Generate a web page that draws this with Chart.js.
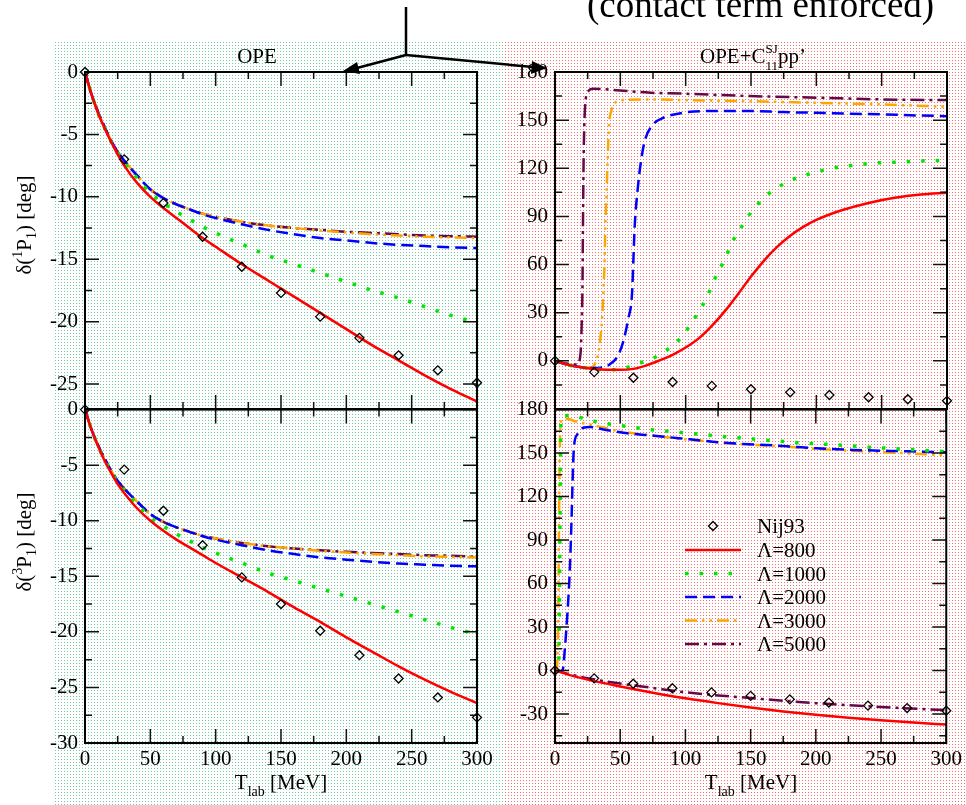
<!DOCTYPE html>
<html>
<head>
<meta charset="utf-8">
<title>1P1 / 3P1 phase shifts</title>
<script src="https://cdn.jsdelivr.net/npm/chart.js@4.4.1/dist/chart.umd.min.js"></script>
<style>
  body { margin: 0; background: #fff; }
  #page { position: relative; width: 966px; height: 805px; overflow: hidden; }
  .bg { position: absolute; top: 40px; height: 765px; background-size: 3px 3px;
        background-image: linear-gradient(90deg, #fff 2px, transparent 2px), linear-gradient(#fff 2px, transparent 2px); }
  #bgL { left: 53px; width: 450px; background-color: #78c8a8; }
  #bgR { left: 503px; width: 463px; background-color: #f07272; }
  .box { position: absolute; }
  #arrows { position: absolute; left: 0; top: 0; }
</style>
</head>
<body>
<div id="page">
  <div class="bg" id="bgL"></div>
  <div class="bg" id="bgR"></div>
  <div class="box" style="left:0;top:0;width:490px;height:430px"><canvas id="tl"></canvas></div>
  <div class="box" style="left:490px;top:0;width:476px;height:430px"><canvas id="tr"></canvas></div>
  <div class="box" style="left:0;top:390px;width:503px;height:415px"><canvas id="bl"></canvas></div>
  <div class="box" style="left:490px;top:390px;width:476px;height:415px"><canvas id="br"></canvas></div>
  <svg id="arrows" width="966" height="805">
    <polyline points="406,7 406,55 357,68" fill="none" stroke="#000" stroke-width="2.5"/>
    <polygon points="343,71 357,62 360,74" fill="#000"/>
    <polyline points="406,55 533,67" fill="none" stroke="#000" stroke-width="2.5"/>
    <polygon points="547,68 532,61 531,74" fill="#000"/>
  </svg>
</div>
<script>
// ---- data ----
const xTicks = [0, 50, 100, 150, 200, 250, 300];
const yTicksTL = [0, -5, -10, -15, -20, -25];
const yTicksBL = [0, -5, -10, -15, -20, -25, -30];
const yTicksTR = [0, 30, 60, 90, 120, 150, 180];
const yTicksBR = [-30, 0, 30, 60, 90, 120, 150, 180];

const tNij = [0, 30, 60, 90, 120, 150, 180, 210, 240, 270, 300];
const nij1P1 = [0, -7.0, -10.5, -13.2, -15.6, -17.7, -19.6, -21.3, -22.7, -23.9, -24.9];
const nij3P1 = [0, -5.4, -9.1, -12.2, -15.1, -17.5, -19.9, -22.1, -24.2, -25.9, -27.7];

// OPE, 1P1
const tLeft = [0, 5, 10, 15, 20, 25, 30, 40, 50, 60, 70, 80, 90, 100, 120, 140, 160, 180, 200, 220, 240, 260, 280, 300];
const ope1P1_800  = [0, -1.8, -3.3, -4.5, -5.6, -6.6, -7.5, -8.9, -10.0, -10.9, -11.7, -12.5, -13.3, -14.0, -15.4, -16.7, -18.0, -19.3, -20.6, -21.9, -23.1, -24.3, -25.4, -26.4];
const ope1P1_1000 = [0, -1.8, -3.3, -4.5, -5.6, -6.5, -7.3, -8.5, -9.7, -10.5, -11.2, -11.8, -12.4, -12.9, -13.8, -14.7, -15.4, -16.1, -16.8, -17.5, -18.1, -18.8, -19.5, -20.1];
const ope1P1_2000 = [0, -1.8, -3.2, -4.4, -5.5, -6.4, -7.1, -8.3, -9.4, -10.1, -10.6, -11.0, -11.4, -11.7, -12.2, -12.65, -13.0, -13.3, -13.5, -13.7, -13.85, -13.95, -14.05, -14.1];
const ope1P1_3000 = [0, -1.8, -3.2, -4.4, -5.5, -6.4, -7.1, -8.3, -9.4, -10.1, -10.6, -11.0, -11.35, -11.6, -12.0, -12.3, -12.5, -12.7, -12.85, -13.0, -13.1, -13.2, -13.25, -13.3];
const ope1P1_5000 = [0, -1.8, -3.2, -4.4, -5.5, -6.4, -7.1, -8.3, -9.4, -10.1, -10.6, -11.0, -11.35, -11.6, -12.0, -12.3, -12.5, -12.65, -12.8, -12.9, -13.0, -13.1, -13.15, -13.2];

// OPE, 3P1
const ope3P1_800  = [0, -1.8, -3.3, -4.6, -5.7, -6.7, -7.5, -8.9, -10.0, -10.9, -11.7, -12.4, -13.1, -13.8, -15.1, -16.4, -17.8, -19.1, -20.5, -21.8, -23.1, -24.3, -25.4, -26.4];
const ope3P1_1000 = [0, -1.8, -3.3, -4.5, -5.6, -6.5, -7.3, -8.5, -9.7, -10.5, -11.2, -11.8, -12.4, -12.9, -13.8, -14.7, -15.4, -16.1, -16.8, -17.5, -18.2, -18.9, -19.6, -20.2];
const ope3P1_2000 = [0, -1.8, -3.2, -4.4, -5.5, -6.4, -7.1, -8.3, -9.4, -10.1, -10.6, -11.0, -11.4, -11.7, -12.2, -12.65, -13.0, -13.3, -13.5, -13.7, -13.85, -13.95, -14.05, -14.1];
const ope3P1_3000 = [0, -1.8, -3.2, -4.4, -5.5, -6.4, -7.1, -8.3, -9.4, -10.1, -10.6, -11.0, -11.35, -11.6, -12.0, -12.3, -12.5, -12.7, -12.85, -13.0, -13.1, -13.2, -13.25, -13.3];
const ope3P1_5000 = [0, -1.8, -3.2, -4.4, -5.5, -6.4, -7.1, -8.3, -9.4, -10.1, -10.6, -11.0, -11.35, -11.6, -12.0, -12.3, -12.5, -12.65, -12.8, -12.9, -13.0, -13.1, -13.15, -13.25];

// OPE + C11 pp', 1P1
const ct1P1_800_t  = [0, 10, 20, 30, 40, 50, 60, 70, 80, 90, 100, 110, 120, 130, 140, 150, 160, 170, 180, 190, 200, 210, 220, 240, 260, 280, 300];
const ct1P1_800    = [0, -2.5, -4.0, -5.0, -5.5, -5.6, -5.0, -2.8, 0.3, 3.8, 8.3, 14, 21.8, 31, 41.5, 52.5, 62.5, 71, 78, 83.5, 87.8, 91.2, 94, 98.4, 101.6, 103.6, 104.8];
const ct1P1_1000_t = [0, 10, 20, 30, 40, 45, 55, 65, 75, 84, 93, 100, 106, 112, 117, 121, 126, 131, 135, 141, 146, 153, 160, 169, 178, 188, 199, 209, 220, 230, 241, 252, 263, 274, 285, 300];
const ct1P1_1000   = [0, -2.5, -4, -5, -5.5, -5.6, -4.1, -1.4, 1.5, 5.9, 11.5, 18.2, 25.6, 33.3, 41, 48.9, 57.2, 65.1, 73.2, 80.9, 88.1, 95.4, 101.8, 107.2, 111.6, 114.9, 117.4, 119.5, 121.1, 122, 123, 123.6, 123.8, 124.3, 124.7, 125];
const ct1P1_2000_t = [0, 10, 20, 30, 35, 42, 48, 52, 56, 59, 60, 61, 63, 66, 69, 75, 83, 98, 124, 149, 175, 200, 226, 251, 277, 300];
const ct1P1_2000   = [0, -2.5, -4, -4.5, -4.2, -2.1, 3, 11.4, 25.9, 42.5, 63.2, 84, 104.7, 125.5, 138, 147.3, 151.5, 154.6, 155.7, 155.7, 155, 154.6, 154, 153.6, 152.9, 152.5];
const ct1P1_3000_t = [0, 10, 20, 27, 32, 34, 36, 37, 38, 38.5, 39.5, 40.3, 41.3, 43, 46, 52, 73, 98, 149, 200, 251, 300];
const ct1P1_3000   = [0, -2.5, -3.8, -4.2, 1, 9.3, 25.9, 42.5, 63.2, 84, 104.7, 125.5, 146.3, 155.6, 160.8, 162.5, 162.9, 162.5, 161.8, 160.8, 159.8, 158.3];
const ct1P1_5000_t = [0, 10, 17, 19.6, 20.4, 21, 21.4, 21.9, 22.4, 23.5, 25.5, 29, 47, 73, 98, 149, 200, 251, 300];
const ct1P1_5000   = [0, -1.8, -2.3, 5.2, 21.8, 45, 84, 125.5, 146.3, 162.9, 168.1, 169.6, 168.7, 167.1, 166.5, 165, 164, 162.9, 162.5];

// OPE + C11 pp', 3P1
const ct3P1_800_t  = [0, 10, 25, 50, 75, 100, 125, 150, 175, 200, 225, 250, 275, 300];
const ct3P1_800    = [0, -2.8, -6.3, -11, -15.3, -19.2, -22.5, -25.5, -28.2, -30.5, -32.5, -34.3, -35.9, -37.3];
const ct3P1_1000_t = [0, 2, 3, 3.5, 4, 4.6, 8, 12, 23, 33, 44, 55, 66, 76, 87, 98, 131, 152, 173, 195, 217, 238, 260, 282, 300];
const ct3P1_1000   = [0, -0.5, 10, 60, 120, 173.9, 175.8, 176.2, 173.6, 171.4, 169.8, 168.4, 167, 165.9, 165, 164.1, 161.3, 159.7, 158.1, 156.7, 155.6, 154.2, 153.1, 151.9, 151];
const ct3P1_2000_t = [0, 3, 5.9, 7.7, 9.5, 11, 12, 12.8, 13.5, 14.5, 17.1, 21.7, 26.8, 37, 52.3, 77.8, 103.3, 128.8, 174.7, 200.3, 228.3, 256.4, 289.5, 300];
const ct3P1_2000   = [0, -0.8, 0.5, 16.5, 39.3, 62.2, 85.1, 108, 130.9, 153.7, 162.9, 167.5, 168, 166.3, 164, 161.8, 159.5, 157.2, 154.9, 153.3, 152.2, 151.5, 150.8, 150.5];
const ct3P1_3000_t = [0, 1.5, 2.5, 3, 3.5, 4.2, 6, 10, 15, 25, 35, 50, 75, 100, 130, 175, 200, 230, 260, 300];
const ct3P1_3000   = [0, 2, 40, 90, 140, 170, 173.5, 173.5, 172, 170, 168, 165, 162, 159.5, 157, 154.5, 153, 151.5, 150.3, 148.5];
const ct3P1_5000_t = [0, 10, 25, 50, 75, 100, 150, 200, 250, 300];
const ct3P1_5000   = [0, -2.3, -5.3, -9, -12, -15, -19, -22.5, -25.2, -27.3];

// ---- drawing ----
const FONT = '"Liberation Serif", "Times New Roman", serif';
const FS = 21;

function pts(xs, ys) {
    return xs.map(function (x, i) { return { x: x, y: ys[i] }; });
}

const lineStyle = {
    800:  { borderColor: '#ff0000', borderWidth: 2.5, borderDash: [] },
    1000: { borderColor: '#00e600', borderWidth: 3.5, borderDash: [3.5, 11] },
    2000: { borderColor: '#0000ff', borderWidth: 2.5, borderDash: [12, 6] },
    3000: { borderColor: '#ffa500', borderWidth: 2.5, borderDash: [12, 5, 2.5, 5, 2.5, 5] },
    5000: { borderColor: '#670748', borderWidth: 2.5, borderDash: [14, 5, 3, 5] },
};

function curve(lambda, xs, ys) {
    const s = lineStyle[lambda];
    return {
        label: '\u039B=' + lambda,
        data: pts(xs, ys),
        borderColor: s.borderColor,
        borderWidth: s.borderWidth,
        borderDash: s.borderDash,
        borderCapStyle: 'butt',
        pointRadius: 0,
        fill: false,
        cubicInterpolationMode: 'monotone',
    };
}

function nijSet(ys) {
    return {
        label: 'Nij93',
        data: pts(tNij, ys),
        showLine: false,
        pointStyle: 'rectRot',
        pointRadius: 4.5,
        pointBorderWidth: 1.3,
        borderColor: '#000',
        pointBackgroundColor: 'rgba(0,0,0,0)',
        clip: false,
    };
}

function drawRuns(ctx, runs, x, y, align) {
    let total = 0;
    const widths = runs.map(function (r) {
        ctx.font = r.size + 'px ' + FONT;
        let w;
        if (r.stack) {
            w = Math.max.apply(null, r.stack.map(function (s) { return ctx.measureText(s.text).width; }));
        } else {
            w = ctx.measureText(r.text).width;
        }
        total += w;
        return w;
    });
    let cx = align === 'center' ? x - total / 2 : x;
    ctx.fillStyle = '#000';
    ctx.textAlign = 'left';
    ctx.textBaseline = 'alphabetic';
    runs.forEach(function (r, i) {
        ctx.font = r.size + 'px ' + FONT;
        if (r.stack) {
            r.stack.forEach(function (s) { ctx.fillText(s.text, cx, y + s.dy); });
        } else {
            ctx.fillText(r.text, cx, y + (r.dy || 0));
        }
        cx += widths[i];
    });
}

function drawFrame(chart, yTicks, minorY) {
    const ctx = chart.ctx;
    const a = chart.chartArea;
    const xs = chart.scales.x, ys = chart.scales.y;
    ctx.save();
    ctx.strokeStyle = '#111';
    ctx.lineWidth = 1.5;
    ctx.beginPath();
    const nx = Math.round((xs.max - xs.min) / 25);
    for (let i = 0; i <= nx; i++) {
        const v = xs.min + i * 25;
        const len = xTicks.indexOf(v) >= 0 ? 14 : 7;
        const px = xs.getPixelForValue(v);
        ctx.moveTo(px, a.bottom); ctx.lineTo(px, a.bottom - len);
        ctx.moveTo(px, a.top); ctx.lineTo(px, a.top + len);
    }
    const k0 = Math.ceil(ys.min / minorY - 1e-9), k1 = Math.floor(ys.max / minorY + 1e-9);
    for (let k = k0; k <= k1; k++) {
        const v = k * minorY;
        const len = yTicks.indexOf(v) >= 0 ? 14 : 7;
        const py = ys.getPixelForValue(v);
        ctx.moveTo(a.left, py); ctx.lineTo(a.left + len, py);
        ctx.moveTo(a.right, py); ctx.lineTo(a.right - len, py);
    }
    ctx.stroke();
    ctx.strokeStyle = '#000';
    ctx.lineWidth = 2;
    ctx.strokeRect(a.left, a.top, a.right - a.left, a.bottom - a.top);
    ctx.restore();
}

const legendBase = [143, 167, 190.5, 214, 237.5, 261];

function drawLegend(chart) {
    const ctx = chart.ctx;
    chart.data.datasets.forEach(function (ds, i) {
        const yb = legendBase[i], ym = yb - 7;
        ctx.save();
        if (ds.showLine === false) {
            ctx.strokeStyle = '#000';
            ctx.lineWidth = 1.3;
            ctx.beginPath();
            ctx.moveTo(223, ym - 4.5); ctx.lineTo(227.5, ym); ctx.lineTo(223, ym + 4.5); ctx.lineTo(218.5, ym);
            ctx.closePath();
            ctx.stroke();
        } else {
            ctx.strokeStyle = ds.borderColor;
            ctx.lineWidth = ds.borderWidth;
            ctx.setLineDash(ds.borderDash);
            ctx.lineCap = 'butt';
            ctx.beginPath();
            ctx.moveTo(195, ym); ctx.lineTo(251, ym);
            ctx.stroke();
        }
        ctx.restore();
        drawRuns(ctx, [{ text: ds.label, size: FS }], 267, yb, 'left');
    });
}

function yTitle(ctx, x, y, sup) {
    ctx.save();
    ctx.translate(x, y);
    ctx.rotate(-Math.PI / 2);
    drawRuns(ctx, [
        { text: '\u03B4(', size: FS },
        { text: sup, size: 14, dy: -9 },
        { text: 'P', size: FS },
        { text: '1', size: 14, dy: 5 },
        { text: ') [deg]', size: FS },
    ], 0, 0, 'center');
    ctx.restore();
}

function xTitle(ctx, x, y) {
    drawRuns(ctx, [
        { text: 'T', size: FS },
        { text: 'lab', size: 14, dy: 7 },
        { text: ' [MeV]', size: FS },
    ], x, y, 'center');
}

function makePanel(id, datasets, opt) {
    const ctx = document.getElementById(id);
    return new Chart(ctx, {
        type: 'line',
        data: { datasets: datasets },
        plugins: [{
            id: 'decor',
            afterDraw: function (chart) {
                drawFrame(chart, opt.yTicks, opt.minorY);
                if (opt.texts) opt.texts(chart.ctx, chart);
                if (opt.legend) drawLegend(chart);
            }
        }],
        options: {
            responsive: true,
            maintainAspectRatio: false,
            animation: false,
            events: [],
            layout: { padding: opt.padding },
            plugins: { legend: { display: false }, tooltip: { enabled: false }, title: { display: false } },
            scales: {
                x: {
                    type: 'linear',
                    min: 0,
                    max: 300,
                    display: opt.showX,
                    grid: { display: false, drawTicks: false },
                    border: { display: false },
                    ticks: { color: '#000', font: { family: FONT, size: FS }, padding: 4, autoSkip: false, maxRotation: 0 },
                    afterBuildTicks: function (axis) { axis.ticks = xTicks.map(function (v) { return { value: v }; }); },
                    afterFit: function (axis) { axis.height = opt.showX ? 40 : 0; },
                },
                y: {
                    type: 'linear',
                    min: opt.yMin,
                    max: opt.yMax,
                    grid: { display: false, drawTicks: false },
                    border: { display: false },
                    ticks: { color: '#000', font: { family: FONT, size: FS }, padding: 7, autoSkip: false },
                    afterBuildTicks: function (axis) { axis.ticks = opt.yTicks.map(function (v) { return { value: v }; }); },
                    afterFit: function (axis) { axis.width = 60; },
                },
            },
        },
    });
}

makePanel('tl', [
    nijSet(nij1P1),
    curve(800, tLeft, ope1P1_800),
    curve(1000, tLeft, ope1P1_1000),
    curve(2000, tLeft, ope1P1_2000),
    curve(3000, tLeft, ope1P1_3000),
    curve(5000, tLeft, ope1P1_5000),
], {
    padding: { left: 25, right: 13, top: 72, bottom: 21 },
    showX: false, yMin: -27, yMax: 0, yTicks: yTicksTL, minorY: 2.5,
    texts: function (ctx) {
        drawRuns(ctx, [{ text: 'OPE', size: FS }], 257, 63, 'center');
        yTitle(ctx, 31, 225, '1');
    }
});

makePanel('tr', [
    nijSet(nij1P1),
    curve(800, ct1P1_800_t, ct1P1_800),
    curve(1000, ct1P1_1000_t, ct1P1_1000),
    curve(2000, ct1P1_2000_t, ct1P1_2000),
    curve(3000, ct1P1_3000_t, ct1P1_3000),
    curve(5000, ct1P1_5000_t, ct1P1_5000),
], {
    padding: { left: 5, right: 19, top: 72, bottom: 21 },
    showX: false, yMin: -30, yMax: 180, yTicks: yTicksTR, minorY: 15,
    texts: function (ctx) {
        drawRuns(ctx, [
            { text: 'OPE+C', size: FS },
            { stack: [{ text: 'SJ', dy: -10 }, { text: '11', dy: 7 }], size: 13 },
            { text: 'pp\u2019', size: FS },
        ], 210, 63, 'left');
        drawRuns(ctx, [{ text: '(contact term enforced)', size: 37 }], 97, 17, 'left');
    }
});

makePanel('bl', [
    nijSet(nij3P1),
    curve(800, tLeft, ope3P1_800),
    curve(1000, tLeft, ope3P1_1000),
    curve(2000, tLeft, ope3P1_2000),
    curve(3000, tLeft, ope3P1_3000),
    curve(5000, tLeft, ope3P1_5000),
], {
    padding: { left: 25, right: 26, top: 19, bottom: 22 },
    showX: true, yMin: -30, yMax: 0, yTicks: yTicksBL, minorY: 2.5,
    texts: function (ctx) {
        yTitle(ctx, 31, 152, '3');
        xTitle(ctx, 281, 399);
    }
});

makePanel('br', [
    nijSet(nij3P1),
    curve(800, ct3P1_800_t, ct3P1_800),
    curve(1000, ct3P1_1000_t, ct3P1_1000),
    curve(2000, ct3P1_2000_t, ct3P1_2000),
    curve(3000, ct3P1_3000_t, ct3P1_3000),
    curve(5000, ct3P1_5000_t, ct3P1_5000),
], {
    padding: { left: 5, right: 19, top: 19, bottom: 22 },
    showX: true, yMin: -50, yMax: 180, yTicks: yTicksBR, minorY: 15,
    legend: true,
    texts: function (ctx) {
        xTitle(ctx, 261, 399);
    }
});
</script>
</body>
</html>
